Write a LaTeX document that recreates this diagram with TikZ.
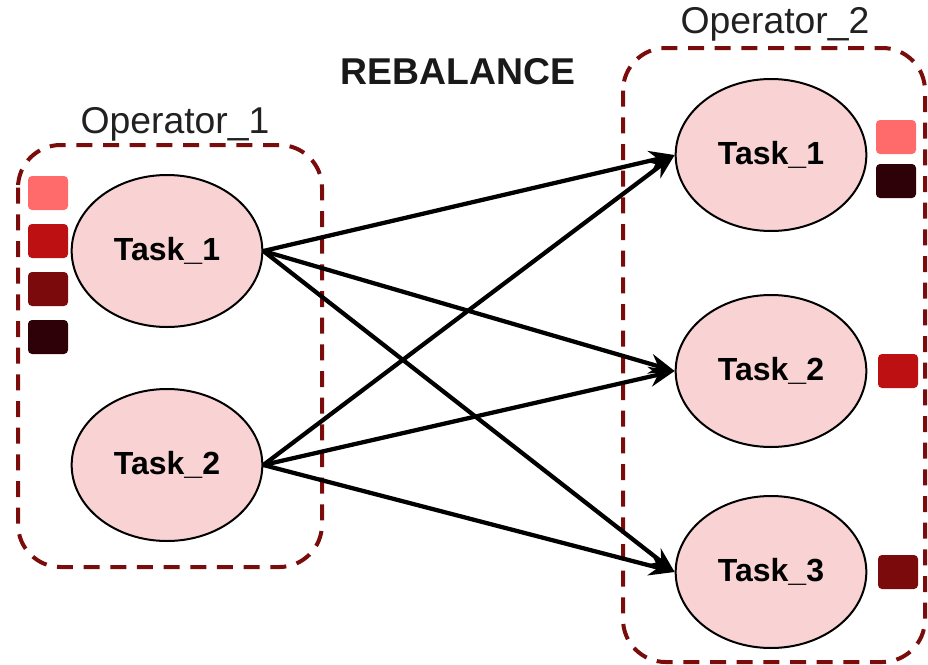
\documentclass[tikz,border=0pt]{standalone}
\usepackage{fontspec}
\setmainfont{Liberation Sans}
\usetikzlibrary{arrows.meta,shapes.geometric}

\definecolor{opred}{HTML}{7A0C0C}
\definecolor{taskpink}{HTML}{F9D3D3}
\definecolor{keyA}{HTML}{FF6B6B}
\definecolor{keyB}{HTML}{BC1012}
\definecolor{keyC}{HTML}{7A0A0C}
\definecolor{keyD}{HTML}{2E0008}

\begin{document}
\begin{tikzpicture}[x=0.75pt, y=-0.75pt,
  task/.style={draw, line width=1.5pt, ellipse, fill=taskpink, minimum width=143pt, minimum height=114pt, inner sep=0pt, font=\fontsize{24}{28}\selectfont\bfseries},
  opbox/.style={draw=opred, line width=3pt, dash pattern=on 12pt off 8pt, rounded corners=32pt},
  oplabel/.style={text=black!87, font=\fontsize{28}{32}\selectfont},
  key/.style={rounded corners=3pt},
  flow/.style={-{Stealth[length=19pt, width=15pt]}, line width=3.2pt}]
\useasboundingbox (0,0) rectangle (928,664);
% \draw (0,0) grid (928,664);
\draw[opbox] (18,145) rectangle (322,567);
\draw[opbox] (623,48) rectangle (925,662);
\node[oplabel] (op1) at (175,124) {Operator\_1};
\node[oplabel] (op2) at (775,24) {Operator\_2};
\node[text=black!90, font=\fontsize{28}{32}\selectfont\bfseries] (title) at (458,72) {REBALANCE};

\node[task] (a1) at (167,251) {Task\_1};
\node[task] (a2) at (167,465) {Task\_2};
\node[task] (b1) at (771,155) {Task\_1};
\node[task] (b2) at (771,371) {Task\_2};
\node[task] (b3) at (771,572) {Task\_3};

% records held by each task
\fill[key, keyA] (28,176) rectangle (68,210);
\fill[key, keyB] (28,224) rectangle (68,258);
\fill[key, keyC] (28,272) rectangle (68,306);
\fill[key, keyD] (28,320) rectangle (68,354);
\fill[key, keyA] (876,120) rectangle (916,154);
\fill[key, keyD] (876,164) rectangle (916,198);
\fill[key, keyB] (878,354) rectangle (918,388);
\fill[key, keyC] (878,555) rectangle (918,589);

\foreach \s in {a1,a2}
  \foreach \t in {b1,b2,b3}
    \draw[flow] (\s.east) -- (\t.west);
\end{tikzpicture}
\end{document}
